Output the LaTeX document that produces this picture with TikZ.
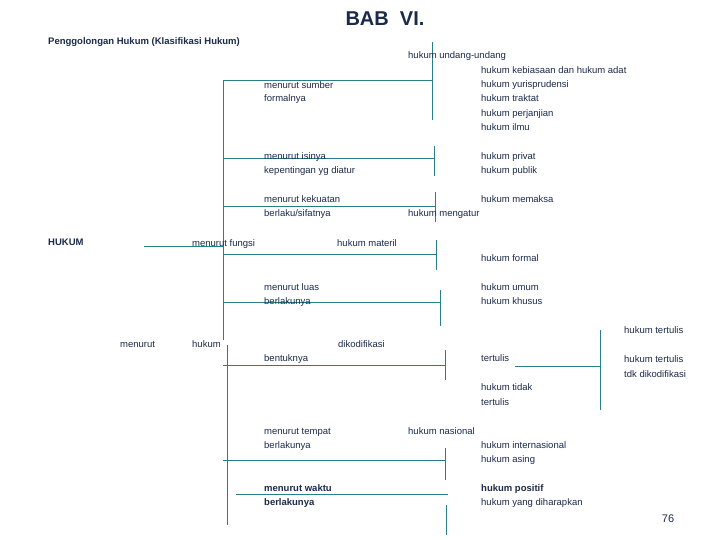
\documentclass[tikz,border=0pt]{standalone}
\usepackage{fontspec}
\setmainfont{Liberation Sans}
\definecolor{linecol}{HTML}{2A7F86}
\definecolor{textcol}{HTML}{1B2A4A}
\begin{document}
\begin{tikzpicture}[x=1pt,y=-1pt,
		txt/.style={anchor=base west, inner sep=0pt, text=textcol, font=\fontsize{9.5}{11}\selectfont},
		bold/.style={txt, font=\fontsize{9.5}{11}\selectfont\bfseries},
		branch/.style={linecol, line width=0.8pt}]
	\useasboundingbox (0,0) rectangle (720,540);

	% Headings
	\node[anchor=base, inner sep=0pt, text=textcol, font=\fontsize{20}{22}\selectfont\bfseries] (title) at (385,26) {BAB\ \ VI.};
	\node[bold] (sub) at (48,45) {Penggolongan Hukum (Klasifikasi Hukum)};
	\node[bold] (hukum) at (48,245) {HUKUM};

	% Main stem
	\coordinate (root) at (144,246);
	\coordinate (stem) at (223,246);
	\draw[branch] (root) -- (stem);
	\draw[branch] (223,80) -- (223,340);
	\draw[branch] (227,345) -- (227,525);

	% Branches to the right
	\foreach \y/\x/\a/\b/\name in {80/432/42/120/b1, 158/434/146/176/b2, 206/435/192/222/b3,
			254/436/240/270/b4, 302/440/290/326/b5, 365/445/350/380/b6, 460/445/448/480/b7}{
		\coordinate (\name) at (\x,\y);
		\draw[branch] (223,\y) -- (\name);
		\draw[branch] (\x,\a) -- (\x,\b);
	}
	\coordinate (b8) at (448,494);
	\draw[branch] (236,494) -- (b8);
	\draw[branch] (446,505) -- (446,535);

	% Sub-branch of tertulis
	\coordinate (t1) at (515,366);
	\coordinate (t2) at (600,366);
	\draw[branch] (t1) -- (t2);
	\draw[branch] (600,330) -- (600,410);

	% Criteria
	\node[txt] (sumber) at (264,89) {menurut sumber};
	\node[txt] (sumber2) at (264,102) {formalnya};
	\node[txt] (isi) at (264,160) {menurut isinya};
	\node[txt] (isi2) at (264,174) {kepentingan yg diatur};
	\node[txt] (kekuatan) at (264,203) {menurut kekuatan};
	\node[txt] (kekuatan2) at (264,217) {berlaku/sifatnya};
	\node[txt] (fungsi) at (192,246) {menurut fungsi};
	\node[txt] (luas) at (264,290) {menurut luas};
	\node[txt] (luas2) at (264,304) {berlakunya};
	\node[txt] (menurut) at (120,347) {menurut};
	\node[txt] (hukumb) at (192,347) {hukum};
	\node[txt] (bentuk) at (264,361) {bentuknya};
	\node[txt] (tempat) at (264,434) {menurut tempat};
	\node[txt] (tempat2) at (264,448) {berlakunya};
	\node[bold] (waktu) at (264,491) {menurut waktu};
	\node[bold] (waktu2) at (264,505) {berlakunya};

	% Kinds of law
	\node[txt] (uu) at (408,59) {hukum undang-undang};
	\node[txt] (adat) at (481,74) {hukum kebiasaan dan hukum adat};
	\node[txt] (yuris) at (481,88) {hukum yurisprudensi};
	\node[txt] (traktat) at (481,102) {hukum traktat};
	\node[txt] (janji) at (481,117) {hukum perjanjian};
	\node[txt] (ilmu) at (481,131) {hukum ilmu};
	\node[txt] (privat) at (481,160) {hukum privat};
	\node[txt] (publik) at (481,174) {hukum publik};
	\node[txt] (memaksa) at (481,203) {hukum memaksa};
	\node[txt] (mengatur) at (408,217) {hukum mengatur};
	\node[txt] (materil) at (337,246) {hukum materil};
	\node[txt] (formal) at (481,261) {hukum formal};
	\node[txt] (umum) at (481,290) {hukum umum};
	\node[txt] (khusus) at (481,304) {hukum khusus};
	\node[txt] (kodifikasi) at (338,347) {dikodifikasi};
	\node[txt] (tertulis) at (481,361) {tertulis};
	\node[txt] (tidak) at (481,390) {hukum tidak};
	\node[txt] (tidak2) at (481,405) {tertulis};
	\node[txt] (tk1) at (624,333) {hukum tertulis};
	\node[txt] (tk2) at (624,362) {hukum tertulis};
	\node[txt] (tk3) at (624,377) {tdk dikodifikasi};
	\node[txt] (nasional) at (408,434) {hukum nasional};
	\node[txt] (inter) at (481,448) {hukum internasional};
	\node[txt] (asing) at (481,462) {hukum asing};
	\node[bold] (positif) at (481,491) {hukum positif};
	\node[txt] (harap) at (481,505) {hukum yang diharapkan};

	% Page number
	\node[anchor=base, inner sep=0pt, text=textcol, font=\fontsize{11}{12}\selectfont] (page) at (668,522) {76};
\end{tikzpicture}
\end{document}
